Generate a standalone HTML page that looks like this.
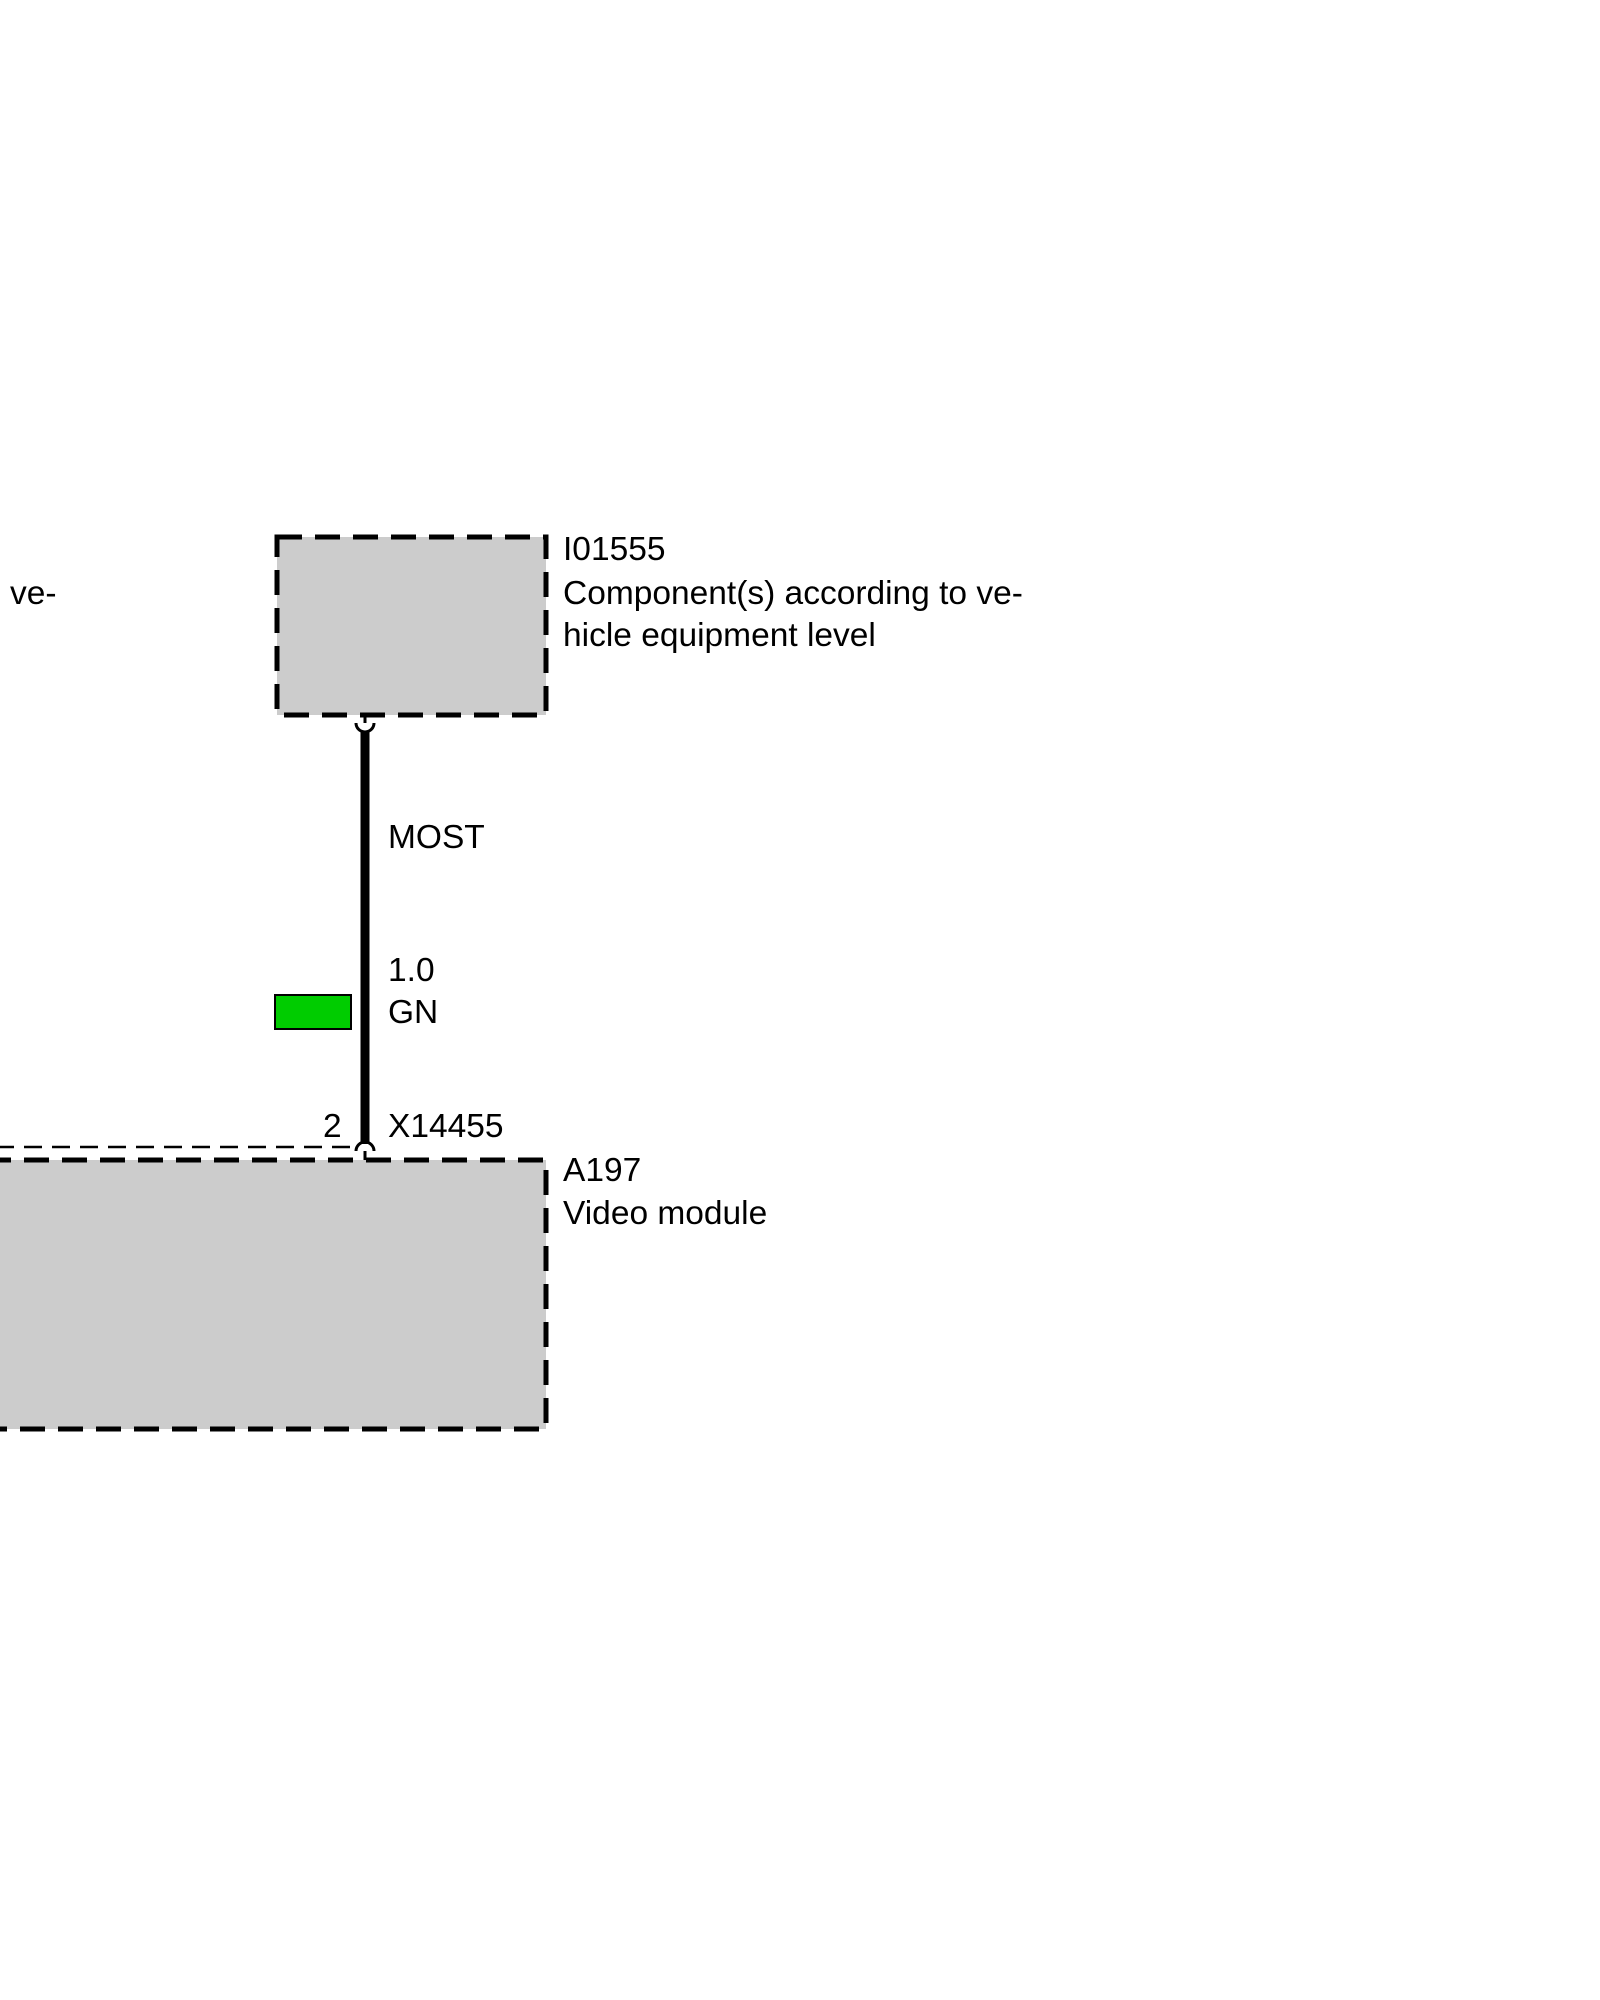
<!DOCTYPE html>
<html><head><meta charset="utf-8"><style>
html,body{margin:0;padding:0;background:#fff;}
svg{display:block}
text{font-family:"Liberation Sans",Arial,sans-serif;font-size:33.5px;fill:#000}
</style></head><body>
<svg width="1600" height="2000" viewBox="0 0 1600 2000" xmlns="http://www.w3.org/2000/svg">
<rect x="0" y="0" width="1600" height="2000" fill="#fff"/>
<rect x="281" y="545" width="269" height="178" fill="#cccccc" stroke="#000" stroke-width="5" stroke-dasharray="25 13" transform="translate(-4,-8)"/>
<g transform="translate(-4,-13)">
<rect x="-10" y="1173" width="560" height="269" fill="#cccccc" stroke="#000" stroke-width="5" stroke-dasharray="25 13"/>
<line x1="0" y1="1160" x2="356" y2="1160" stroke="#000" stroke-width="2.5" stroke-dasharray="18 10"/>
<path d="M360 1164 A9 9 0 0 1 378 1164" fill="none" stroke="#000" stroke-width="3"/>
<line x1="369" y1="1164" x2="369" y2="1173" stroke="#000" stroke-width="3"/>
</g>
<line x1="365" y1="732" x2="365" y2="1144" stroke="#000" stroke-width="9"/>
<g transform="translate(-4,-8)">
<line x1="369" y1="723" x2="369" y2="731" stroke="#000" stroke-width="3"/>
<path d="M360 731 A9 9 0 0 0 378 731" fill="none" stroke="#000" stroke-width="3"/>
</g>
<rect x="275" y="1007" width="76" height="34" fill="#00cc00" stroke="#000" stroke-width="2" transform="translate(0,-12)"/>
<text x="563" y="560">I01555</text>
<text x="563" y="604">Component(s) according to ve-</text>
<text x="563" y="646">hicle equipment level</text>
<text x="-18" y="604">o ve-</text>
<text x="388" y="848">MOST</text>
<text x="388" y="981">1.0</text>
<text x="388" y="1023">GN</text>
<text x="323" y="1137">2</text>
<text x="388" y="1137">X14455</text>
<text x="563" y="1181">A197</text>
<text x="563" y="1224">Video module</text>
</svg>
</body></html>
